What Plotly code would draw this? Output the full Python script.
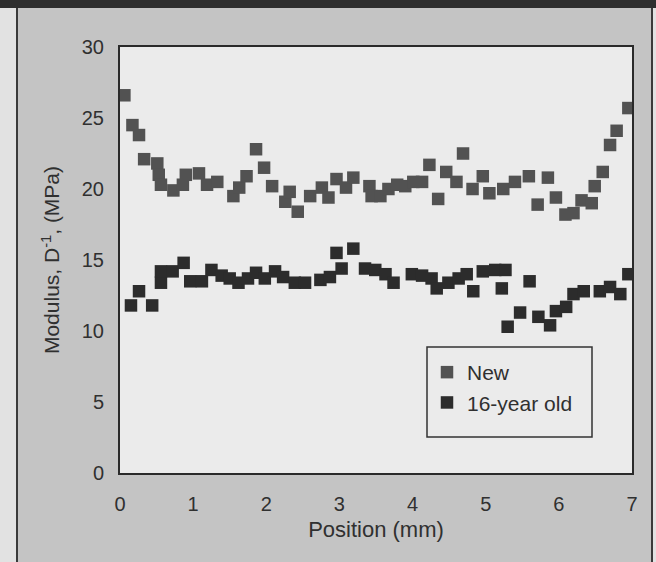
import plotly.graph_objects as go

# ---- data ----
new_x = [0.06, 0.17, 0.26, 0.33, 0.51, 0.53, 0.56, 0.73, 0.86, 0.90, 1.08, 1.19, 1.33,
         1.55, 1.63, 1.73, 1.86, 1.97, 2.08, 2.26, 2.32, 2.43, 2.60, 2.76, 2.85, 2.96,
         3.09, 3.19, 3.41, 3.44, 3.56, 3.67, 3.79, 3.90, 4.01, 4.13, 4.23, 4.35, 4.46,
         4.60, 4.69, 4.82, 4.96, 5.05, 5.24, 5.40, 5.59, 5.71, 5.85, 5.96, 6.09, 6.20,
         6.31, 6.45, 6.49, 6.60, 6.70, 6.79, 6.95]
new_y = [26.6, 24.5, 23.8, 22.1, 21.8, 21.0, 20.3, 19.9, 20.3, 21.0, 21.1, 20.3, 20.5,
         19.5, 20.1, 20.9, 22.8, 21.5, 20.2, 19.1, 19.8, 18.4, 19.5, 20.1, 19.4, 20.7,
         20.1, 20.8, 20.2, 19.5, 19.5, 20.0, 20.3, 20.2, 20.5, 20.5, 21.7, 19.3, 21.2,
         20.5, 22.5, 20.0, 20.9, 19.7, 20.0, 20.5, 20.9, 18.9, 20.8, 19.4, 18.2, 18.3,
         19.2, 19.0, 20.2, 21.2, 23.1, 24.1, 25.7]

old_x = [0.15, 0.26, 0.44, 0.56, 0.56, 0.72, 0.87, 0.96, 1.12, 1.25, 1.39, 1.50, 1.62,
         1.75, 1.86, 1.98, 2.12, 2.23, 2.39, 2.53, 2.74, 2.87, 2.96, 3.03, 3.19, 3.35,
         3.49, 3.63, 3.74, 3.99, 4.13, 4.26, 4.33, 4.49, 4.63, 4.74, 4.83, 4.96, 5.13,
         5.27, 5.22, 5.60, 5.30, 5.47, 5.72, 5.88, 5.96, 6.10, 6.20, 6.34, 6.56, 6.70,
         6.84, 6.95]
old_y = [11.8, 12.8, 11.8, 13.4, 14.2, 14.2, 14.8, 13.5, 13.5, 14.3, 13.9, 13.7, 13.4,
         13.7, 14.1, 13.7, 14.2, 13.8, 13.4, 13.4, 13.6, 13.8, 15.5, 14.4, 15.8, 14.4,
         14.3, 14.0, 13.4, 14.0, 13.9, 13.7, 13.0, 13.4, 13.7, 14.0, 12.8, 14.2, 14.3,
         14.3, 13.0, 13.5, 10.3, 11.3, 11.0, 10.4, 11.4, 11.7, 12.6, 12.8, 12.8, 13.1,
         12.6, 14.0]

x_ticks = [0, 1, 2, 3, 4, 5, 6, 7]
y_ticks = [0, 5, 10, 15, 20, 25, 30]

FONT = "Liberation Sans, Arial, Helvetica, sans-serif"
TXT = "#303030"

fig = go.Figure()
fig.add_trace(go.Scatter(x=new_x, y=new_y, mode="markers", name="New",
                         marker=dict(symbol="square", size=12.5, color="#525252",
                                     line=dict(width=0))))
fig.add_trace(go.Scatter(x=old_x, y=old_y, mode="markers", name="16-year old",
                         marker=dict(symbol="square", size=12.5, color="#2c2c2c",
                                     line=dict(width=0))))

# plot area: x 120..632 px, y 47..473 px
def px2x(p):
    return (p - 120) / 512.0

def px2y(p):
    return (473 - p) / 426.0

shapes = [
    dict(type="rect", xref="paper", yref="paper", x0=px2x(0), x1=px2x(656),
         y0=px2y(8), y1=px2y(0), fillcolor="#2e2e2e", line=dict(width=0), layer="below"),
    dict(type="rect", xref="paper", yref="paper", x0=px2x(0), x1=px2x(17),
         y0=px2y(562), y1=px2y(8), fillcolor="#e2e2e2", line=dict(width=0), layer="below"),
    dict(type="rect", xref="paper", yref="paper", x0=px2x(652), x1=px2x(656),
         y0=px2y(562), y1=px2y(8), fillcolor="#e2e2e2", line=dict(width=0), layer="below"),
    dict(type="line", xref="paper", yref="paper", x0=px2x(17), x1=px2x(17),
         y0=px2y(562), y1=px2y(8), line=dict(color="#3a3a3a", width=2)),
    dict(type="line", xref="paper", yref="paper", x0=px2x(652), x1=px2x(652),
         y0=px2y(562), y1=px2y(8), line=dict(color="#3a3a3a", width=2)),
    dict(type="rect", xref="paper", yref="paper", x0=px2x(427), x1=px2x(592),
         y0=px2y(437), y1=px2y(347), line=dict(color="#333333", width=1.5),
         fillcolor="rgba(0,0,0,0)"),
]

fig.update_layout(
    width=656, height=562,
    margin=dict(l=120, r=24, t=47, b=89, autoexpand=False),
    paper_bgcolor="#c4c4c4",
    plot_bgcolor="#ebebeb",
    font=dict(family=FONT, color=TXT, size=20),
    showlegend=True,
    legend=dict(x=px2x(427), y=px2y(352), xanchor="left", yanchor="top",
                bgcolor="rgba(0,0,0,0)", borderwidth=0,
                font=dict(size=21, color=TXT, family=FONT), tracegroupgap=0),
    shapes=shapes,
)
fig.update_xaxes(range=[0, 7], tickvals=x_ticks, ticks="", showgrid=False, zeroline=False,
                 showline=True, mirror=True, linecolor="#2a2a2a", linewidth=2,
                 tickfont=dict(size=20, color=TXT), ticklabelstandoff=12,
                 title=dict(text="Position (mm)", font=dict(size=22, color=TXT), standoff=8))
fig.update_yaxes(range=[0, 30], tickvals=y_ticks, ticks="", showgrid=False, zeroline=False,
                 showline=True, mirror=True, linecolor="#2a2a2a", linewidth=2,
                 tickfont=dict(size=20, color=TXT), ticklabelstandoff=10,
                 title=dict(text="Modulus, D<sup>-1</sup>, (MPa)", font=dict(size=21, color=TXT),
                            standoff=16))

fig.write_html("out.html")
